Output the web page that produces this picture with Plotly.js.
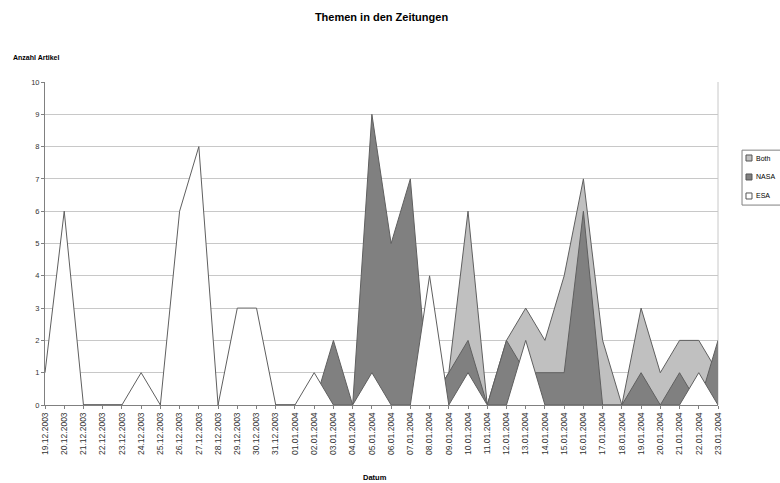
<!DOCTYPE html>
<html>
<head>
<meta charset="utf-8">
<script src="https://cdn.plot.ly/plotly-3.0.1.min.js"></script>
<style>html,body{margin:0;padding:0;background:#fff;}#chart{width:780px;height:483px;}</style>
</head>
<body>
<div id="chart"></div>
<script>
var dates = ['19.12.2003','20.12.2003','21.12.2003','22.12.2003','23.12.2003','24.12.2003','25.12.2003','26.12.2003','27.12.2003','28.12.2003','29.12.2003','30.12.2003','31.12.2003','01.01.2004','02.01.2004','03.01.2004','04.01.2004','05.01.2004','06.01.2004','07.01.2004','08.01.2004','09.01.2004','10.01.2004','11.01.2004','12.01.2004','13.01.2004','14.01.2004','15.01.2004','16.01.2004','17.01.2004','18.01.2004','19.01.2004','20.01.2004','21.01.2004','22.01.2004','23.01.2004'];
var esa  = [1,6,0,0,0,1,0,6,8,0,3,3,0,0,1,0,0,1,0,0,4,0,1,0,0,2,0,0,0,0,0,0,0,0,1,0];
var nasa = [0,0,0,0,0,0,0,0,0,0,0,0,0,0,0,2,0,9,5,7,0,1,2,0,2,1,1,1,6,0,0,1,0,1,0,2];
var both = [0,0,0,0,0,0,0,0,0,0,0,0,0,0,0,0,0,0,0,0,0,1,6,0,2,3,2,4,7,2,0,3,1,2,2,1];
var seriesNames = ['Both','NASA','ESA'];
var seriesFills = ['#c0c0c0','#808080','#ffffff'];

var FONT = 'Liberation Sans, Arial, sans-serif';
function tr(name, y, fill) {
  return {x: dates, y: y, name: name, type: 'scatter', mode: 'lines', fill: 'tozeroy',
    fillcolor: fill, line: {color: '#5f5f5f', width: 1}, hoverinfo: 'x+y+name', showlegend: false};
}
var data = [tr(seriesNames[0], both, seriesFills[0]), tr(seriesNames[1], nasa, seriesFills[1]), tr(seriesNames[2], esa, seriesFills[2])];

// legend drawn by hand so that it sits at the right edge like the reference
var shapes = [
  {type: 'line', xref: 'paper', yref: 'paper', x0: 1, x1: 1, y0: 0, y1: 1, line: {color: '#c8c8c8', width: 1}, layer: 'below'},
  {type: 'rect', xref: 'paper', yref: 'paper', x0: 1.0357, x1: 1.1, y0: 0.619, y1: 0.789, line: {color: '#808080', width: 1}, fillcolor: '#fff'}
];
var annotations = [
  {text: '<b>Anzahl Artikel</b>', xref: 'paper', yref: 'paper', x: -0.05, y: 1.075, xanchor: 'left', yanchor: 'middle', showarrow: false, font: {size: 7, family: FONT}},
  {text: '<b>Datum</b>', xref: 'paper', yref: 'paper', x: 0.49, y: -0.225, xanchor: 'center', yanchor: 'middle', showarrow: false, font: {size: 7.5, family: FONT}}
];
var legY = [0.7647, 0.7059, 0.6471];
for (var i = 0; i < seriesNames.length; i++) {
  shapes.push({type: 'rect', xref: 'paper', yref: 'paper', x0: 1.0416, x1: 1.0505, y0: legY[i] - 0.0093, y1: legY[i] + 0.0093,
    line: {color: '#555555', width: 1}, fillcolor: seriesFills[i]});
  annotations.push({text: seriesNames[i], xref: 'paper', yref: 'paper', x: 1.054, y: legY[i], xanchor: 'left', yanchor: 'middle',
    showarrow: false, font: {size: 7, family: FONT}});
}

var layout = {
  width: 780, height: 483,
  margin: {l: 45, r: 62, t: 82, b: 78, autoexpand: false},
  paper_bgcolor: '#fff', plot_bgcolor: '#fff',
  font: {family: FONT, color: '#000', size: 7},
  title: {text: '<b>Themen in den Zeitungen</b>', font: {family: FONT, size: 11, color: '#000'}, x: 0.5, xref: 'paper', xanchor: 'center', y: 0.965, yanchor: 'middle'},
  xaxis: {type: 'category', range: [0, 35], tickangle: -90, tickfont: {size: 8.5, family: FONT, color: '#333'},
    ticks: 'outside', ticklen: 3, tickcolor: '#808080', showgrid: false, showline: true, linecolor: '#808080',
    linewidth: 1, zeroline: false, automargin: false, fixedrange: true},
  yaxis: {range: [0, 10], dtick: 1, tickfont: {size: 7.5, family: FONT, color: '#333'}, ticks: 'outside', ticklen: 3,
    tickcolor: '#808080', showgrid: true, gridcolor: '#c8c8c8', gridwidth: 1, showline: true, linecolor: '#808080',
    zeroline: false, automargin: false, fixedrange: true},
  showlegend: false,
  shapes: shapes,
  annotations: annotations
};
Plotly.newPlot('chart', data, layout, {displayModeBar: false, staticPlot: true});
</script>
</body>
</html>
